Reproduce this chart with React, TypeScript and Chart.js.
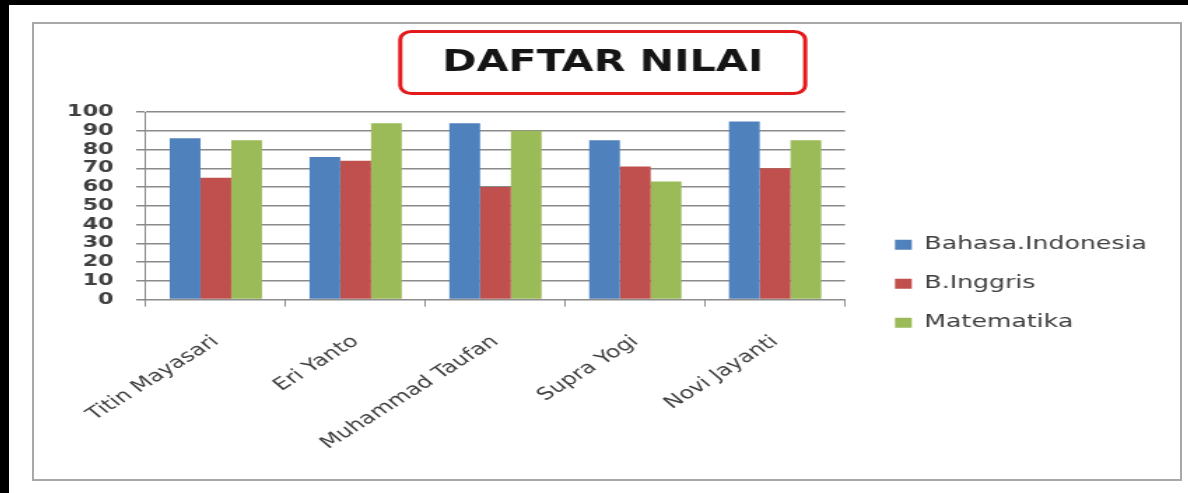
import React, { useEffect, useRef } from 'react';
import { Chart, registerables } from 'chart.js';

Chart.register(...registerables);

const categories = ['Titin Mayasari', 'Eri Yanto', 'Muhammad Taufan', 'Supra Yogi', 'Novi Jayanti'];
const seriesNames = ['Bahasa.Indonesia', 'B.Inggris', 'Matematika'];
const bahasaIndonesia = [86, 76, 94, 85, 95];
const bahasaInggris = [65, 74, 60, 71, 70];
const matematika = [85, 94, 90, 63, 85];
const seriesColors = ['#4f81bd', '#c0504d', '#9bbb59'];
const yTicks = [0, 10, 20, 30, 40, 50, 60, 70, 80, 90, 100];
const titleText = 'DAFTAR NILAI';

const LOG_W = 819;
const LOG_H = 455;
const FINAL_W = 1146;
const SX = FINAL_W / LOG_W;

const titleBoxPlugin = {
  id: 'titleBox',
  afterDraw(chart: any) {
    const tb = chart.titleBlock;
    if (!tb) return;
    const ctx = chart.ctx;
    ctx.save();
    ctx.font = "bold 29.5px 'DejaVu Sans'";
    const w = ctx.measureText(titleText).width;
    const cx = (tb.left + tb.right) / 2;
    const bw = w + 60;
    const x = cx - bw / 2;
    const y = 7.5;
    const h = 62;
    ctx.strokeStyle = '#e31a1c';
    ctx.lineWidth = 3;
    ctx.beginPath();
    (ctx as any).roundRect(x, y, bw, h, 8);
    ctx.stroke();
    ctx.restore();
  },
};

// let the right-hand legend take the width it needs
const legendWidthPlugin = {
  id: 'legendWidth',
  beforeLayout(chart: any) {
    const lg = chart.legend;
    if (lg && !lg.__wide) {
      const orig = lg.update.bind(lg);
      lg.update = (mw: number, mh: number, m: any) => orig(Math.max(mw, 300), mh, m);
      lg.__wide = true;
    }
  },
};

export default function App() {
  const ref = useRef<HTMLCanvasElement | null>(null);

  useEffect(() => {
    if (!ref.current) return;
    const data = [bahasaIndonesia, bahasaInggris, matematika];
    const chart = new Chart(ref.current, {
      type: 'bar',
      data: {
        labels: categories,
        datasets: seriesNames.map((name, i) => ({
          label: name,
          data: data[i],
          backgroundColor: seriesColors[i],
          borderColor: seriesColors[i],
          borderWidth: 0,
          categoryPercentage: 0.66,
          barPercentage: 1.0,
        })),
      },
      options: {
        animation: false,
        responsive: false,
        devicePixelRatio: 1,
        font: { family: "'DejaVu Sans'" },
        layout: { padding: { left: 7.6, right: 13.7, top: 0, bottom: 0.5 } },
        plugins: {
          title: {
            display: true,
            text: titleText,
            color: '#151515',
            font: { family: "'DejaVu Sans'", size: 29.5, weight: 'bold' },
            padding: { top: 21.3, bottom: 31.3 },
          },
          legend: {
            position: 'right',
            align: 'center',
            title: {
              display: true,
              text: '',
              font: { family: "'DejaVu Sans'", size: 18 },
              padding: { top: 0, bottom: 43.4 },
            },
            labels: {
              boxWidth: 12,
              boxHeight: 10,
              padding: 21,
              color: '#404040',
              font: { family: "'DejaVu Sans'", size: 18 },
            },
          },
          tooltip: { enabled: false },
        },
        scales: {
          x: {
            grid: {
              display: true,
              drawOnChartArea: false,
              drawTicks: true,
              tickLength: 7,
              color: '#8c8c8c',
              lineWidth: 1,
              offset: true,
            },
            border: { color: '#8c8c8c', width: 1 },
            ticks: {
              minRotation: 41,
              maxRotation: 41,
              padding: 25,
              autoSkip: false,
              color: '#404040',
              font: { family: "'DejaVu Sans'", size: 17 },
            },
          },
          y: {
            min: 0,
            max: 100,
            afterBuildTicks: (scale: any) => {
              scale.ticks = yTicks.map((v) => ({ value: v }));
            },
            ticks: {
              stepSize: 10,
              autoSkip: false,
              padding: 16,
              color: '#404040',
              font: { family: "'DejaVu Sans'", size: 16, weight: 'bold' },
            },
            grid: { color: '#8a8a8a', lineWidth: 1.5, tickLength: 7 },
            border: { color: '#8a8a8a', width: 1 },
          },
          y2: {
            type: 'linear',
            position: 'right',
            display: true,
            grid: { display: false, drawTicks: false },
            ticks: { display: false },
            border: { display: false },
            afterFit: (scale: any) => {
              scale.width = 14.7;
            },
          },
        },
      } as any,
      plugins: [titleBoxPlugin, legendWidthPlugin],
    });
    return () => chart.destroy();
  }, []);

  return (
    <div
      style={{
        position: 'fixed',
        left: 0,
        top: 0,
        width: 1188,
        height: 493,
        background: '#000',
        overflow: 'hidden',
      }}
    >
      <div style={{ position: 'absolute', left: 9, top: 5, right: 0, bottom: 0, background: '#fff' }} />
      <div
        style={{
          position: 'absolute',
          left: 32,
          top: 22,
          width: 1150,
          height: 459,
          boxSizing: 'border-box',
          border: '2px solid #a8a8a8',
        }}
      />
      <div
        style={{
          position: 'absolute',
          left: 34,
          top: 24,
          width: LOG_W,
          height: LOG_H,
          transform: `scaleX(${SX})`,
          transformOrigin: '0 0',
        }}
      >
        <canvas
          ref={ref}
          width={LOG_W}
          height={LOG_H}
          style={{ width: LOG_W, height: LOG_H, display: 'block' }}
        />
      </div>
    </div>
  );
}
